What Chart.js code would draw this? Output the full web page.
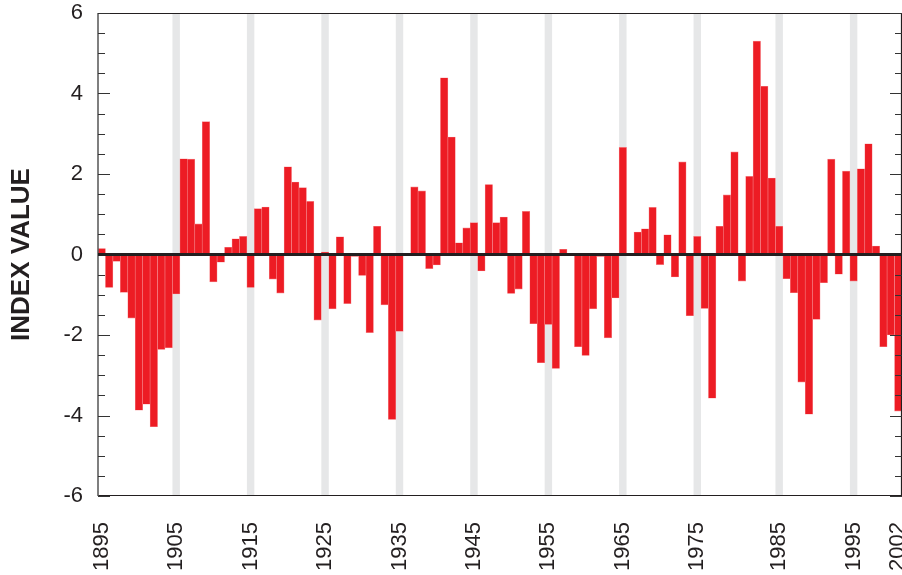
<!DOCTYPE html>
<html>
<head>
<meta charset="utf-8">
<script src="https://cdn.jsdelivr.net/npm/chart.js@4.4.1/dist/chart.umd.min.js"></script>
<style>
    html, body { margin: 0; padding: 0; background: #fff; }
    #wrap { width: 902px; height: 575px; position: relative; }
</style>
</head>
<body>
<div id="wrap"><canvas id="index-chart"></canvas></div>
<script>
// one bar per year
let years = [];
for (let y = 1895; y <= 2002; y++) years.push(String(y));

// index value for each year, 1895 -> 2002
let indexValues = [
    0.15, -0.82, -0.17, -0.94, -1.58, -3.87, -3.72, -4.28, -2.36, -2.32,   // 1895-1904
    -0.98, 2.38, 2.37, 0.76, 3.30, -0.68, -0.19, 0.18, 0.39, 0.45,        // 1905-1914
    -0.82, 1.14, 1.18, -0.61, -0.96, 2.18, 1.80, 1.66, 1.32, -1.63,       // 1915-1924
    0.06, -1.35, 0.44, -1.22, -0.05, -0.52, -1.94, 0.70, -1.25, -4.10,    // 1925-1934
    -1.91, 0.00, 1.68, 1.58, -0.35, -0.26, 4.39, 2.92, 0.29, 0.66,        // 1935-1944
    0.79, -0.41, 1.74, 0.79, 0.93, -0.97, -0.86, 1.07, -1.72, -2.69,      // 1945-1954
    -1.74, -2.83, 0.13, -0.02, -2.29, -2.51, -1.35, -0.05, -2.07, -1.08,  // 1955-1964
    2.66, 0.00, 0.56, 0.64, 1.17, -0.25, 0.49, -0.56, 2.30, -1.52,        // 1965-1974
    0.45, -1.34, -3.57, 0.70, 1.48, 2.55, -0.66, 1.94, 5.30, 4.18,        // 1975-1984
    1.90, 0.70, -0.60, -0.95, -3.17, -3.97, -1.61, -0.70, 2.37, -0.49,    // 1985-1994
    2.07, -0.66, 2.13, 2.75, 0.21, -2.29, -2.00, -3.89                    // 1995-2002
];

// labelled x ticks and the bar each one sits under (as in the original figure)
let tickLabels = ['1895', '1905', '1915', '1925', '1935', '1945', '1955', '1965', '1975', '1985', '1995', '2002'];
let tickIndex = [0, 10, 20, 30, 40, 50, 60, 70, 80, 91, 101, 107];
// grey decade bands
let bandIndex = [10, 20, 30, 40, 50, 60, 70, 80, 91, 101];

// y axis: labelled values, minor ticks every half unit
let yLabels = [-6, -4, -2, 0, 2, 4, 6];

const INK = '#231f20';
const FONT = 'Liberation Sans, Arial, Helvetica, sans-serif';

let decorPlugin = {
    id: 'decor',
    beforeDatasetsDraw(chart) {
        let ctx = chart.ctx;
        let area = chart.chartArea;
        let xs = chart.scales.x;
        let w = xs.getPixelForValue(1) - xs.getPixelForValue(0);
        ctx.save();
        ctx.fillStyle = '#e6e7e8';
        bandIndex.forEach(function (i) {
            let cx = xs.getPixelForValue(i);
            ctx.fillRect(cx - w / 2, area.top, w, area.bottom - area.top);
        });
        ctx.restore();
    },
    afterDatasetsDraw(chart) {
        let ctx = chart.ctx;
        let area = chart.chartArea;
        let ys = chart.scales.y;
        ctx.save();

        // frame
        ctx.strokeStyle = INK;
        ctx.lineWidth = 1.2;
        ctx.beginPath();
        ctx.moveTo(area.left, area.top + 0.5);
        ctx.lineTo(area.right, area.top + 0.5);
        ctx.moveTo(area.left, area.bottom - 0.5);
        ctx.lineTo(area.right, area.bottom - 0.5);
        ctx.moveTo(area.right - 0.5, area.top);
        ctx.lineTo(area.right - 0.5, area.bottom);
        ctx.stroke();
        ctx.strokeStyle = '#555';
        ctx.lineWidth = 1.5;
        ctx.beginPath();
        ctx.moveTo(area.left, area.top);
        ctx.lineTo(area.left, area.bottom);
        ctx.stroke();

        // inward tick marks on both sides
        ctx.strokeStyle = '#333';
        ctx.lineWidth = 1.2;
        ctx.beginPath();
        ys.ticks.forEach(function (t) {
            let py = Math.round(ys.getPixelForValue(t.value)) + 0.5;
            let len = yLabels.indexOf(t.value) >= 0 ? 12 : 7;
            ctx.moveTo(area.left, py);
            ctx.lineTo(area.left + len, py);
            ctx.moveTo(area.right, py);
            ctx.lineTo(area.right - len, py);
        });
        ctx.stroke();

        // zero line
        let zy = ys.getPixelForValue(0);
        ctx.strokeStyle = INK;
        ctx.lineWidth = 3;
        ctx.beginPath();
        ctx.moveTo(area.left, zy);
        ctx.lineTo(area.right, zy);
        ctx.stroke();
        ctx.restore();
    }
};

function buildIndexChart() {
    return {
        type: 'bar',
        data: {
            labels: years,
            datasets: [{
                data: indexValues,
                backgroundColor: '#ed1c24',
                borderColor: '#f58489',
                borderWidth: 0.6,
                borderSkipped: false,
                barPercentage: 1,
                categoryPercentage: 1
            }]
        },
        options: {
            responsive: true,
            maintainAspectRatio: false,
            animation: false,
            layout: { padding: 0 },
            plugins: {
                legend: { display: false },
                tooltip: { enabled: false }
            },
            scales: {
                x: {
                    grid: { display: false, drawTicks: false },
                    border: { display: false },
                    ticks: {
                        autoSkip: false,
                        minRotation: 90,
                        maxRotation: 90,
                        padding: 26,
                        color: INK,
                        font: { family: FONT, size: 22 },
                        callback: function (val, i) {
                            let k = tickIndex.indexOf(i);
                            return k >= 0 ? tickLabels[k] : '';
                        }
                    },
                    afterFit: function (scale) {
                        scale.height = 79;
                        scale.paddingLeft = 0;
                        scale.paddingRight = 0;
                    }
                },
                y: {
                    min: -6,
                    max: 6,
                    grid: { display: false, drawTicks: false },
                    border: { display: false },
                    ticks: {
                        stepSize: 0.5,
                        autoSkip: false,
                        padding: 15,
                        color: INK,
                        font: { family: FONT, size: 22 },
                        callback: function (val) {
                            return yLabels.indexOf(val) >= 0 ? String(val) : '';
                        }
                    },
                    title: {
                        display: true,
                        text: 'INDEX VALUE',
                        color: INK,
                        font: { family: FONT, size: 26, weight: 'bold', lineHeight: 1.2 },
                        padding: { top: 6, bottom: 0 }
                    },
                    afterFit: function (scale) {
                        scale.width = 98;
                        scale.paddingTop = 13;
                        scale.paddingBottom = 0;
                    }
                }
            }
        },
        plugins: [decorPlugin]
    };
}

let ctx = document.getElementById('index-chart').getContext('2d');
new Chart(ctx, buildIndexChart());
</script>
</body>
</html>
